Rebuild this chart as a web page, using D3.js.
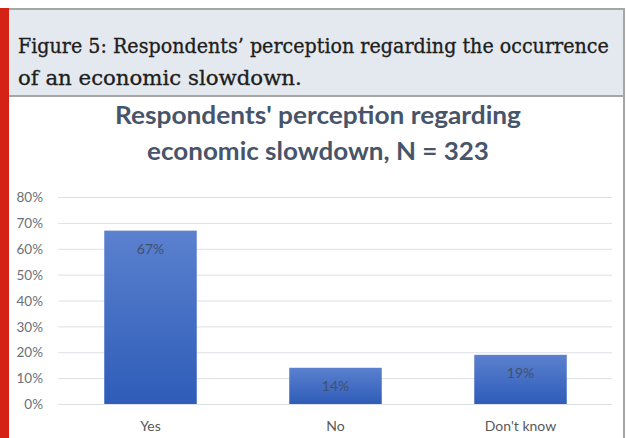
<!DOCTYPE html>
<html><head><meta charset="utf-8">
<script src="https://cdn.jsdelivr.net/npm/d3@7"></script>
<style>html,body{margin:0;padding:0;background:#fff;}svg{display:block;}</style>
</head><body>
<script>
const categories = ["Yes", "No", "Don't know"];
const values = [67, 14, 19];
const valueLabels = ["67%", "14%", "19%"];
const yTicks = [0, 10, 20, 30, 40, 50, 60, 70, 80];
const captionLines = ["Figure 5: Respondents\u2019 perception regarding the occurrence", "of an economic slowdown."];
const titleLines = ["Respondents' perception regarding", "economic slowdown, N = 323"];

const W = 627, H = 438;
const svg = d3.select("body").append("svg").attr("width", W).attr("height", H);

// frame
svg.append("rect").attr("x", 0).attr("y", 0).attr("width", W).attr("height", H).attr("fill", "#fff");
svg.append("rect").attr("x", 9).attr("y", 9).attr("width", 614).attr("height", 87).attr("fill", "#e4e9f0");
svg.append("rect").attr("x", 9).attr("y", 8).attr("width", 616).attr("height", 2).attr("fill", "#a6a6a6");
svg.append("rect").attr("x", 9).attr("y", 95).attr("width", 616).attr("height", 2).attr("fill", "#a6a6a6");
svg.append("rect").attr("x", 623).attr("y", 8).attr("width", 2).attr("height", H - 8).attr("fill", "#a6a6a6");
svg.append("rect").attr("x", 0).attr("y", 8).attr("width", 9).attr("height", H - 8).attr("fill", "#d42216");

// helper: horizontally scale a text to a target width
function fitWidth(sel, target, ax, ay) {
  const w = sel.node().getComputedTextLength();
  const k = target / w;
  sel.attr("x", 0).attr("y", 0).attr("transform", `translate(${ax},${ay}) scale(${k},1)`);
}

// caption
const capBase = [53, 85];
const capLen = [591, 284];
captionLines.forEach((t, i) => {
  const s = svg.append("text")
    .attr("font-family", "'DejaVu Serif', 'Liberation Serif', serif")
    .attr("font-size", 21).attr("fill", "#1e1e1e")
    .attr("stroke", "#1e1e1e").attr("stroke-width", 0.35)
    .text(t);
  fitWidth(s, capLen[i], 18, capBase[i]);
});

// title
const titleBase = [124, 160];
const titleLen = [406, 342];
titleLines.forEach((t, i) => {
  const s = svg.append("text").attr("text-anchor", "middle")
    .attr("font-family", "Lato, 'Open Sans', sans-serif").attr("font-weight", "bold")
    .attr("font-size", 25).attr("fill", "#47546a")
    .text(t);
  fitWidth(s, titleLen[i], 318, titleBase[i]);
});

// scales
const x = d3.scaleBand().domain(categories).range([58, 613]).paddingInner(0.5).paddingOuter(0.25);
const y = d3.scaleLinear().domain([0, 80]).range([404, 197]);

// gridlines
svg.append("g").selectAll("line").data(yTicks).join("line")
  .attr("x1", 58).attr("x2", 612)
  .attr("y1", d => y(d) + 0.5).attr("y2", d => y(d) + 0.5)
  .attr("stroke", "#dde0e6").attr("stroke-width", 1);

// y axis labels
const yAxis = d3.axisLeft(y).tickValues(yTicks).tickFormat(d => d + "%").tickSize(0).tickPadding(0);
const ga = svg.append("g").attr("transform", "translate(43,0)").call(yAxis);
ga.select(".domain").remove();
ga.selectAll("text").attr("font-family", "Lato, 'Open Sans', sans-serif").attr("font-size", 13.5)
  .attr("fill", "#6a6f78").attr("dy", "0.35em");

// gradient
const defs = svg.append("defs");
const grad = defs.append("linearGradient").attr("id", "barGrad").attr("x1", 0).attr("y1", 0).attr("x2", 0).attr("y2", 1)
  .attr("gradientUnits", "objectBoundingBox");
grad.append("stop").attr("offset", "0%").attr("stop-color", "#5b81cf");
grad.append("stop").attr("offset", "100%").attr("stop-color", "#2e5cb8");

// bars
svg.append("g").selectAll("rect").data(categories).join("rect")
  .attr("x", d => x(d)).attr("width", x.bandwidth())
  .attr("y", (d, i) => y(values[i])).attr("height", (d, i) => y(0) - y(values[i]))
  .attr("fill", "url(#barGrad)");

// value labels
svg.append("g").selectAll("text").data(categories).join("text")
  .attr("x", d => x(d) + x.bandwidth() / 2).attr("y", (d, i) => y(values[i]) + 23)
  .attr("text-anchor", "middle").attr("font-family", "Lato, 'Open Sans', sans-serif").attr("font-size", 14)
  .attr("fill", "#425070").text((d, i) => valueLabels[i]);

// x axis labels
const xAxis = d3.axisBottom(x).tickSize(0).tickPadding(0);
const gx = svg.append("g").attr("transform", "translate(0,421)").call(xAxis);
gx.select(".domain").remove();
gx.selectAll("text").attr("font-family", "Lato, 'Open Sans', sans-serif").attr("font-size", 14)
  .attr("fill", "#595959").attr("dy", "0.71em");
</script>
</body></html>
